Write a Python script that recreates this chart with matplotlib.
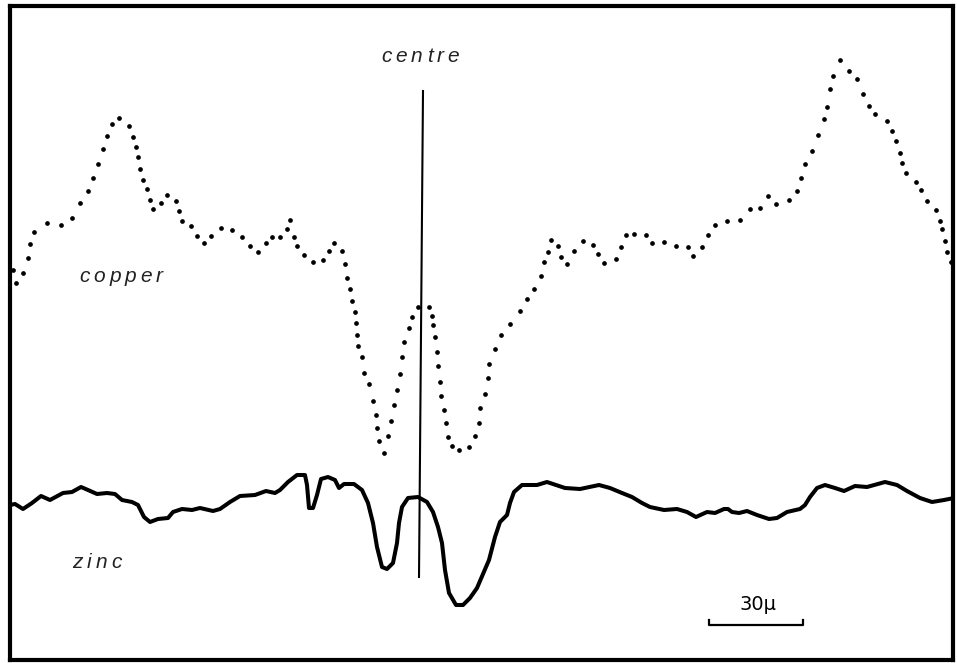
import matplotlib
matplotlib.use("Agg")
import matplotlib.pyplot as plt

# copper profile (dotted trace), position along the scan vs signal height
copper_x = [13, 16, 23, 28, 30, 34, 47, 61, 72, 80, 88, 93, 98, 103, 107, 112, 119,
            129, 133, 136, 138, 140, 143, 147, 150, 153, 161, 167, 176, 179, 182, 191,
            197, 204, 211, 221, 232, 242, 250, 258, 266, 272, 280, 287, 290, 294, 297,
            304, 313, 323, 329, 334, 342, 345, 347, 350, 352, 355, 356, 357, 358, 362,
            364, 369, 373, 376, 377, 379, 384, 388, 391, 394, 397, 400, 402, 404, 409,
            412, 418, 429, 432, 433, 435, 437, 438, 440, 441, 444, 446, 448, 452, 459,
            469, 475, 479, 480, 485, 488, 489, 495, 501, 510, 520, 527, 534, 541, 544,
            548, 551, 558, 561, 567, 574, 583, 593, 598, 604, 616, 621, 626, 634, 646,
            652, 664, 676, 688, 693, 702, 708, 715, 727, 740, 750, 760, 768, 776, 789,
            797, 801, 805, 812, 818, 824, 827, 830, 833, 840, 849, 857, 863, 869, 875,
            887, 892, 896, 900, 902, 906, 916, 921, 927, 936, 940, 942, 945, 947, 951]
copper_y = [390, 377, 387, 402, 416, 428, 437, 435, 442, 457, 469, 482, 496, 511, 524, 536, 542,
            534, 523, 513, 503, 491, 480, 471, 460, 451, 457, 465, 459, 449, 439, 434,
            424, 417, 424, 432, 430, 423, 414, 408, 417, 423, 423, 431, 440, 423, 414,
            405, 398, 400, 409, 417, 409, 396, 382, 371, 359, 348, 337, 325, 314, 303,
            287, 276, 259, 245, 232, 219, 207, 224, 239, 255, 270, 286, 303, 318, 332,
            343, 353, 353, 344, 335, 323, 308, 294, 278, 264, 250, 237, 223, 214, 210,
            213, 224, 237, 252, 266, 282, 296, 311, 325, 336, 349, 361, 371, 384, 398,
            408, 420, 414, 403, 396, 409, 419, 415, 406, 397, 401, 413, 425, 426, 425,
            417, 418, 414, 413, 404, 413, 425, 435, 439, 440, 451, 452, 464, 456, 460,
            469, 482, 496, 509, 525, 541, 553, 571, 584, 600, 589, 581, 566, 554, 546,
            539, 529, 519, 507, 497, 487, 478, 470, 459, 450, 439, 431, 419, 408, 398]

# zinc profile (solid trace)
zinc_x = [10, 15, 23, 32, 41, 50, 63, 72, 81, 88, 97, 107, 115, 122, 132, 138, 144, 150,
          158, 168, 173, 182, 192, 200, 213, 220, 230, 240, 255, 266, 275, 280, 288, 297,
          305, 307, 309, 313, 317, 321, 328, 335, 339, 344, 354, 362, 368, 373, 377, 382,
          387, 393, 397, 399, 402, 408, 418, 427, 433, 438, 442, 445, 449, 456, 463, 470,
          477, 489, 495, 500, 507, 510, 514, 522, 537, 547, 565, 580, 599, 610, 622, 632,
          642, 650, 664, 677, 687, 696, 707, 715, 724, 728, 732, 739, 747, 757, 769, 777,
          787, 800, 805, 810, 817, 825, 835, 844, 855, 867, 885, 897, 907, 920, 932, 944, 954]
zinc_y = [155, 156, 151, 157, 164, 160, 167, 168, 173, 170, 166, 167, 166, 160, 158, 155, 143, 138,
          141, 142, 148, 151, 150, 152, 149, 151, 158, 164, 165, 169, 167, 170, 178, 185,
          185, 175, 152, 152, 165, 181, 183, 180, 172, 176, 176, 170, 157, 137, 113, 93,
          91, 97, 117, 137, 153, 162, 163, 158, 148, 133, 117, 90, 67, 55, 55, 62,
          72, 100, 123, 138, 145, 157, 168, 175, 175, 178, 172, 171, 175, 172, 167, 163,
          157, 153, 150, 151, 148, 143, 148, 147, 151, 151, 148, 147, 149, 145, 141, 142,
          148, 151, 155, 163, 172, 175, 172, 169, 174, 173, 178, 175, 169, 162, 158, 160, 162]

# marker for the centre of the band
centre_x = [423, 419]
centre_y = [569, 83]

# 30 micron scale bar
bar_x = [709, 803]
bar_y = 35


def spaced_label(ax, x, y, word, gap, **kw):
    """Letter-spaced label centred on (x, y) in data coordinates."""
    renderer = ax.figure.canvas.get_renderer()
    widths = []
    for ch in word:
        t = ax.text(0, 0, ch, **kw)
        widths.append(t.get_window_extent(renderer).width)
        t.remove()
    total = sum(widths) + gap * (len(word) - 1)
    off = -total / 2
    for ch, w in zip(word, widths):
        ax.annotate(ch, (x, y), xytext=(off, 0), textcoords="offset pixels",
                    ha="left", va="center", **kw)
        off += w + gap


fig = plt.figure(figsize=(9.57, 6.63), dpi=100)
ax = fig.add_axes([10 / 957, 3 / 663, 943 / 957, 654 / 663])
ax.set_xlim(10, 953)
ax.set_ylim(0, 654)

ax.plot(copper_x, copper_y, linestyle="none", marker="o", markersize=3.4,
        color="black", markeredgewidth=0)
ax.plot(zinc_x, zinc_y, color="black", linewidth=2.9, solid_joinstyle="round",
        solid_capstyle="round")
ax.plot(centre_x, centre_y, color="black", linewidth=1.5)

# scale bar with small end ticks
ax.plot([bar_x[0], bar_x[0], bar_x[1], bar_x[1]],
        [bar_y + 5, bar_y, bar_y, bar_y + 5], color="black", linewidth=1.6)
ax.text(sum(bar_x) / 2 + 2, bar_y + 21, "30\u03bc", ha="center", va="center",
        fontsize=14, family="DejaVu Sans")

lbl = dict(fontsize=15, style="italic", family="Liberation Sans", color="#222222")
spaced_label(ax, 420, 603, "centre", 4, **lbl)
spaced_label(ax, 121, 383, "copper", 4, **lbl)
spaced_label(ax, 97, 97, "zinc", 4, **lbl)

ax.set_xticks([])
ax.set_yticks([])
for side in ax.spines.values():
    side.set_linewidth(3)

fig.savefig("out.png", dpi=100)
